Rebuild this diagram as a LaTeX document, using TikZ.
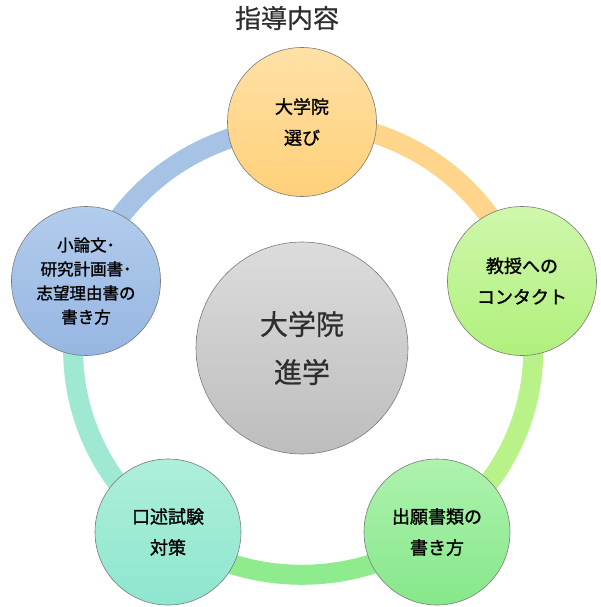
\documentclass[tikz,border=0pt]{standalone}
\usepackage{fontspec}
\setmainfont{Noto Sans CJK JP}
\newfontfamily\jpthick{Noto Sans CJK JP}[FakeBold=1.4]
\newfontfamily\jpmid{Noto Sans CJK JP}[FakeBold=0.7]
\usepackage{tikz}
\usetikzlibrary{positioning,backgrounds}
\definecolor{rimgray}{HTML}{7A7A7A}
\definecolor{inkgray}{HTML}{2E2E2E}
\definecolor{orangeA}{HTML}{FFE0A6}
\definecolor{orangeB}{HTML}{FFD079}
\definecolor{limeA}{HTML}{CFF7AC}
\definecolor{limeB}{HTML}{B0F07C}
\definecolor{greenA}{HTML}{AEF2AE}
\definecolor{greenB}{HTML}{86E88A}
\definecolor{aquaA}{HTML}{AEEEDC}
\definecolor{aquaB}{HTML}{8EE6CE}
\definecolor{blueA}{HTML}{B2CCEC}
\definecolor{blueB}{HTML}{96B6E2}
\definecolor{grayA}{HTML}{DCDCDC}
\definecolor{grayB}{HTML}{BDBDBD}
\definecolor{ringorange}{HTML}{FFD58C}
\definecolor{ringlime}{HTML}{BAF28A}
\definecolor{ringgreen}{HTML}{8EEC8E}
\definecolor{ringaqua}{HTML}{9FE8D2}
\definecolor{ringblue}{HTML}{A6C3E6}

\tikzset{
  bubble/.style={circle, draw=rimgray, line width=0.6pt, minimum size=149pt,
    inner sep=0pt, align=center, text=black,
    font=\jpthick\fontsize{18}{31}\selectfont},
  hub/.style={bubble, minimum size=212pt, text=inkgray,
    font=\jpmid\fontsize{28}{48}\selectfont},
  ring/.style={line width=20pt},
}

\begin{document}
\begin{tikzpicture}[x=1pt,y=1pt]
  \useasboundingbox (0,0) rectangle (600,-607);

  % circles on the ring
  \node[bubble, top color=orangeA, bottom color=orangeB] (sel) at (302,-122) {大学院\\選び};
  \node[bubble, top color=limeA, bottom color=limeB] (contact) at (522,-281) {教授への\\コンタクト};
  \node[bubble, top color=greenA, bottom color=greenB, minimum size=146pt] (docs) at (437,-532) {出願書類の\\書き方};
  \node[bubble, top color=aquaA, bottom color=aquaB, minimum size=146pt] (oral) at (168,-532) {口述試験\\対策};
  \node[bubble, top color=blueA, bottom color=blueB,
        font=\jpthick\fontsize{16.5}{24}\selectfont] (essay) at (86,-281) {小論文･\\研究計画書･\\志望理由書の\\書き方};

  \node[hub, top color=grayA, bottom color=grayB] (goal) at (302,-348) {大学院\\進学};

  \node[text=inkgray, font=\jpmid\fontsize{26}{30}\selectfont] (title) at (287,-18) {指導内容};

  % ring segments, behind the circles
  \begin{scope}[on background layer, x radius=230pt, y radius=224pt]
    \draw[ring, ringorange] (sel.center) arc[start angle=90, end angle=18];
    \draw[ring, ringlime] (contact.center) arc[start angle=18, end angle=-54];
    \draw[ring, ringgreen] (docs.center) arc[start angle=-54, end angle=-126];
    \draw[ring, ringaqua] (oral.center) arc[start angle=-126, end angle=-198];
    \draw[ring, ringblue] (essay.center) arc[start angle=162, end angle=90];
  \end{scope}
\end{tikzpicture}
\end{document}
